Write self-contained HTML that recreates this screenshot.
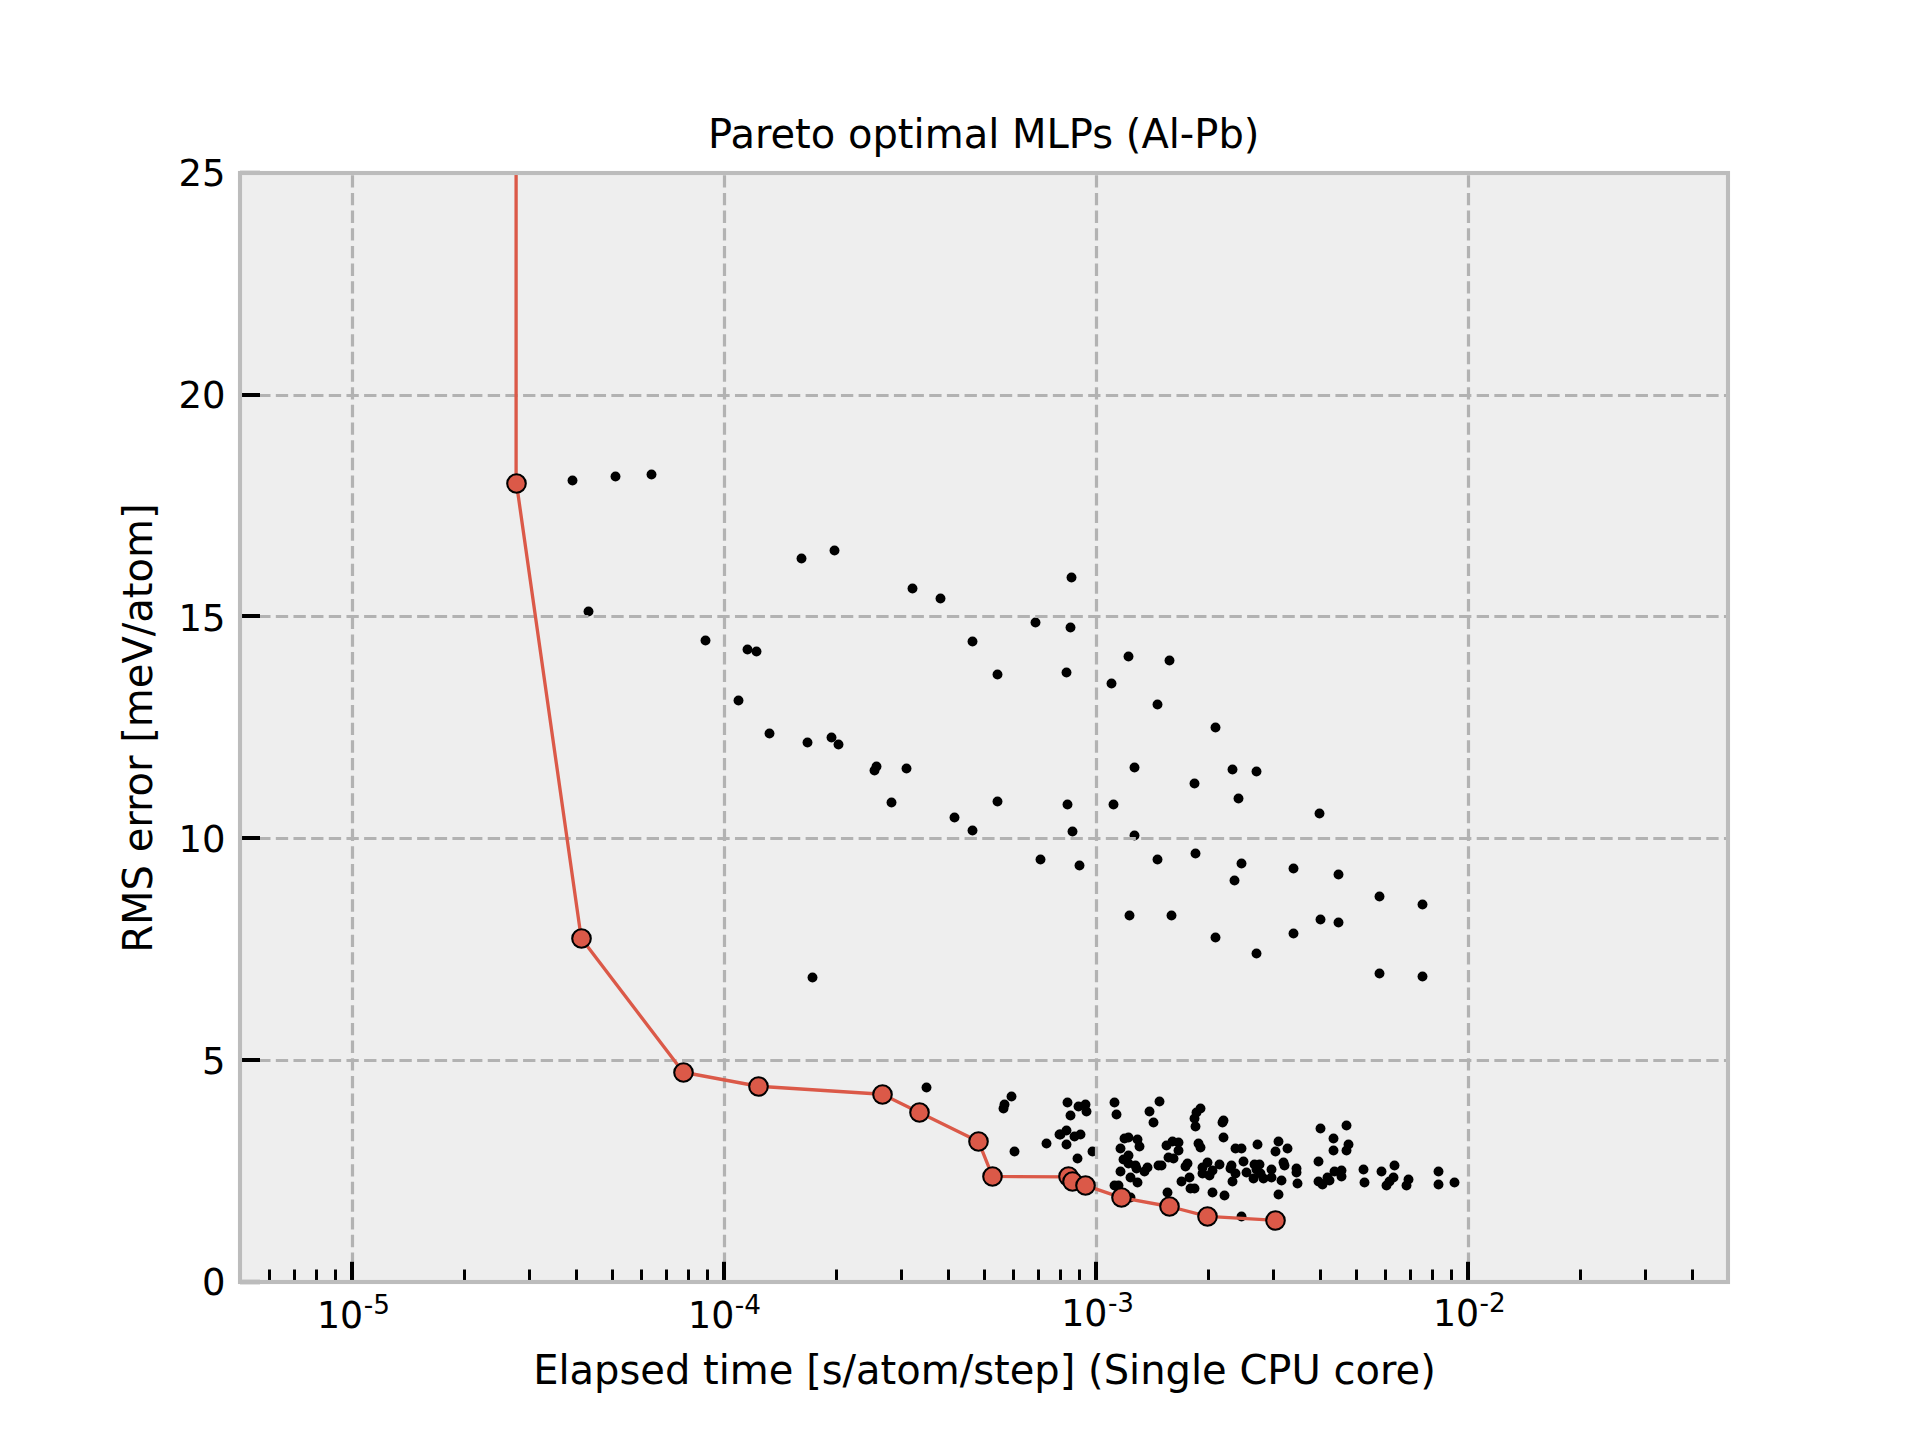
<!DOCTYPE html>
<html lang="en"><head><meta charset="utf-8"><title>Pareto optimal MLPs (Al-Pb)</title>
<style>html,body{margin:0;padding:0;background:#fff;}body{width:1920px;height:1440px;overflow:hidden;}</style></head>
<body>
<svg width="1920" height="1440" viewBox="0 0 1920 1440" style="display:block" font-family='"DejaVu Sans", "Liberation Sans", sans-serif'>
<rect x="0" y="0" width="1920" height="1440" fill="#ffffff"/>
<rect x="240.0" y="172.8" width="1488.0" height="1108.8" fill="#eeeeee"/>
<clipPath id="ax"><rect x="240.0" y="172.8" width="1488.0" height="1108.8"/></clipPath>
<g fill="#000000" clip-path="url(#ax)">
<circle cx="572.5" cy="480.5" r="4.95"/>
<circle cx="615.5" cy="476.5" r="4.95"/>
<circle cx="651.5" cy="474.5" r="4.95"/>
<circle cx="588.5" cy="611.5" r="4.95"/>
<circle cx="705.5" cy="640.5" r="4.95"/>
<circle cx="747.5" cy="649.5" r="4.95"/>
<circle cx="756.5" cy="651.5" r="4.95"/>
<circle cx="738.5" cy="700.5" r="4.95"/>
<circle cx="801.5" cy="558.5" r="4.95"/>
<circle cx="834.5" cy="550.5" r="4.95"/>
<circle cx="912.5" cy="588.5" r="4.95"/>
<circle cx="940.5" cy="598.5" r="4.95"/>
<circle cx="769.5" cy="733.5" r="4.95"/>
<circle cx="807.5" cy="742.5" r="4.95"/>
<circle cx="831.5" cy="737.5" r="4.95"/>
<circle cx="838.5" cy="744.5" r="4.95"/>
<circle cx="876.5" cy="766.5" r="4.95"/>
<circle cx="874.5" cy="770.5" r="4.95"/>
<circle cx="906.5" cy="768.5" r="4.95"/>
<circle cx="891.5" cy="802.5" r="4.95"/>
<circle cx="1071.5" cy="577.5" r="4.95"/>
<circle cx="1035.5" cy="622.5" r="4.95"/>
<circle cx="1070.5" cy="627.5" r="4.95"/>
<circle cx="972.5" cy="641.5" r="4.95"/>
<circle cx="997.5" cy="674.5" r="4.95"/>
<circle cx="1066.5" cy="672.5" r="4.95"/>
<circle cx="1128.5" cy="656.5" r="4.95"/>
<circle cx="1169.5" cy="660.5" r="4.95"/>
<circle cx="1111.5" cy="683.5" r="4.95"/>
<circle cx="1157.5" cy="704.5" r="4.95"/>
<circle cx="1215.5" cy="727.5" r="4.95"/>
<circle cx="1134.5" cy="767.5" r="4.95"/>
<circle cx="1232.5" cy="769.5" r="4.95"/>
<circle cx="1256.5" cy="771.5" r="4.95"/>
<circle cx="1194.5" cy="783.5" r="4.95"/>
<circle cx="1238.5" cy="798.5" r="4.95"/>
<circle cx="997.5" cy="801.5" r="4.95"/>
<circle cx="954.5" cy="817.5" r="4.95"/>
<circle cx="812.5" cy="977.5" r="4.95"/>
<circle cx="926.5" cy="1087.5" r="4.95"/>
<circle cx="1067.5" cy="804.5" r="4.95"/>
<circle cx="1113.5" cy="804.5" r="4.95"/>
<circle cx="1319.5" cy="813.5" r="4.95"/>
<circle cx="972.5" cy="830.5" r="4.95"/>
<circle cx="1072.5" cy="831.5" r="4.95"/>
<circle cx="1134.5" cy="835.5" r="4.95"/>
<circle cx="1040.5" cy="859.5" r="4.95"/>
<circle cx="1079.5" cy="865.5" r="4.95"/>
<circle cx="1157.5" cy="859.5" r="4.95"/>
<circle cx="1195.5" cy="853.5" r="4.95"/>
<circle cx="1241.5" cy="863.5" r="4.95"/>
<circle cx="1234.5" cy="880.5" r="4.95"/>
<circle cx="1293.5" cy="868.5" r="4.95"/>
<circle cx="1338.5" cy="874.5" r="4.95"/>
<circle cx="1379.5" cy="896.5" r="4.95"/>
<circle cx="1422.5" cy="904.5" r="4.95"/>
<circle cx="1129.5" cy="915.5" r="4.95"/>
<circle cx="1171.5" cy="915.5" r="4.95"/>
<circle cx="1320.5" cy="919.5" r="4.95"/>
<circle cx="1338.5" cy="922.5" r="4.95"/>
<circle cx="1293.5" cy="933.5" r="4.95"/>
<circle cx="1215.5" cy="937.5" r="4.95"/>
<circle cx="1256.5" cy="953.5" r="4.95"/>
<circle cx="1379.5" cy="973.5" r="4.95"/>
<circle cx="1422.5" cy="976.5" r="4.95"/>
<circle cx="1011.5" cy="1096.5" r="4.95"/>
<circle cx="1004.5" cy="1104.5" r="4.95"/>
<circle cx="1003.5" cy="1108.5" r="4.95"/>
<circle cx="1014.5" cy="1151.5" r="4.95"/>
<circle cx="1067.5" cy="1102.5" r="4.95"/>
<circle cx="1078.5" cy="1106.5" r="4.95"/>
<circle cx="1085.5" cy="1104.5" r="4.95"/>
<circle cx="1086.5" cy="1111.5" r="4.95"/>
<circle cx="1070.5" cy="1115.5" r="4.95"/>
<circle cx="1066.5" cy="1130.5" r="4.95"/>
<circle cx="1059.5" cy="1134.5" r="4.95"/>
<circle cx="1060.5" cy="1134.5" r="4.95"/>
<circle cx="1074.5" cy="1136.5" r="4.95"/>
<circle cx="1080.5" cy="1134.5" r="4.95"/>
<circle cx="1046.5" cy="1143.5" r="4.95"/>
<circle cx="1066.5" cy="1144.5" r="4.95"/>
<circle cx="1092.5" cy="1151.5" r="4.95"/>
<circle cx="1077.5" cy="1158.5" r="4.95"/>
<circle cx="1114.5" cy="1102.5" r="4.95"/>
<circle cx="1116.5" cy="1114.5" r="4.95"/>
<circle cx="1159.5" cy="1101.5" r="4.95"/>
<circle cx="1149.5" cy="1111.5" r="4.95"/>
<circle cx="1153.5" cy="1122.5" r="4.95"/>
<circle cx="1124.5" cy="1138.5" r="4.95"/>
<circle cx="1128.5" cy="1137.5" r="4.95"/>
<circle cx="1137.5" cy="1139.5" r="4.95"/>
<circle cx="1139.5" cy="1146.5" r="4.95"/>
<circle cx="1120.5" cy="1148.5" r="4.95"/>
<circle cx="1128.5" cy="1155.5" r="4.95"/>
<circle cx="1123.5" cy="1159.5" r="4.95"/>
<circle cx="1128.5" cy="1163.5" r="4.95"/>
<circle cx="1135.5" cy="1165.5" r="4.95"/>
<circle cx="1136.5" cy="1168.5" r="4.95"/>
<circle cx="1147.5" cy="1167.5" r="4.95"/>
<circle cx="1144.5" cy="1171.5" r="4.95"/>
<circle cx="1120.5" cy="1171.5" r="4.95"/>
<circle cx="1130.5" cy="1177.5" r="4.95"/>
<circle cx="1137.5" cy="1182.5" r="4.95"/>
<circle cx="1114.5" cy="1185.5" r="4.95"/>
<circle cx="1118.5" cy="1185.5" r="4.95"/>
<circle cx="1130.5" cy="1197.5" r="4.95"/>
<circle cx="1158.5" cy="1165.5" r="4.95"/>
<circle cx="1161.5" cy="1165.5" r="4.95"/>
<circle cx="1166.5" cy="1145.5" r="4.95"/>
<circle cx="1172.5" cy="1141.5" r="4.95"/>
<circle cx="1178.5" cy="1142.5" r="4.95"/>
<circle cx="1178.5" cy="1150.5" r="4.95"/>
<circle cx="1168.5" cy="1157.5" r="4.95"/>
<circle cx="1173.5" cy="1158.5" r="4.95"/>
<circle cx="1187.5" cy="1163.5" r="4.95"/>
<circle cx="1185.5" cy="1166.5" r="4.95"/>
<circle cx="1189.5" cy="1177.5" r="4.95"/>
<circle cx="1181.5" cy="1181.5" r="4.95"/>
<circle cx="1167.5" cy="1192.5" r="4.95"/>
<circle cx="1190.5" cy="1188.5" r="4.95"/>
<circle cx="1194.5" cy="1188.5" r="4.95"/>
<circle cx="1200.5" cy="1108.5" r="4.95"/>
<circle cx="1196.5" cy="1112.5" r="4.95"/>
<circle cx="1194.5" cy="1118.5" r="4.95"/>
<circle cx="1195.5" cy="1126.5" r="4.95"/>
<circle cx="1223.5" cy="1120.5" r="4.95"/>
<circle cx="1222.5" cy="1122.5" r="4.95"/>
<circle cx="1223.5" cy="1137.5" r="4.95"/>
<circle cx="1198.5" cy="1143.5" r="4.95"/>
<circle cx="1200.5" cy="1147.5" r="4.95"/>
<circle cx="1235.5" cy="1148.5" r="4.95"/>
<circle cx="1241.5" cy="1148.5" r="4.95"/>
<circle cx="1257.5" cy="1144.5" r="4.95"/>
<circle cx="1278.5" cy="1141.5" r="4.95"/>
<circle cx="1275.5" cy="1151.5" r="4.95"/>
<circle cx="1287.5" cy="1148.5" r="4.95"/>
<circle cx="1320.5" cy="1128.5" r="4.95"/>
<circle cx="1333.5" cy="1138.5" r="4.95"/>
<circle cx="1333.5" cy="1150.5" r="4.95"/>
<circle cx="1318.5" cy="1161.5" r="4.95"/>
<circle cx="1243.5" cy="1161.5" r="4.95"/>
<circle cx="1283.5" cy="1162.5" r="4.95"/>
<circle cx="1284.5" cy="1165.5" r="4.95"/>
<circle cx="1219.5" cy="1164.5" r="4.95"/>
<circle cx="1207.5" cy="1162.5" r="4.95"/>
<circle cx="1202.5" cy="1167.5" r="4.95"/>
<circle cx="1212.5" cy="1170.5" r="4.95"/>
<circle cx="1202.5" cy="1173.5" r="4.95"/>
<circle cx="1209.5" cy="1175.5" r="4.95"/>
<circle cx="1231.5" cy="1165.5" r="4.95"/>
<circle cx="1230.5" cy="1168.5" r="4.95"/>
<circle cx="1235.5" cy="1173.5" r="4.95"/>
<circle cx="1232.5" cy="1181.5" r="4.95"/>
<circle cx="1246.5" cy="1172.5" r="4.95"/>
<circle cx="1254.5" cy="1164.5" r="4.95"/>
<circle cx="1259.5" cy="1164.5" r="4.95"/>
<circle cx="1256.5" cy="1169.5" r="4.95"/>
<circle cx="1260.5" cy="1173.5" r="4.95"/>
<circle cx="1253.5" cy="1178.5" r="4.95"/>
<circle cx="1263.5" cy="1178.5" r="4.95"/>
<circle cx="1271.5" cy="1169.5" r="4.95"/>
<circle cx="1271.5" cy="1177.5" r="4.95"/>
<circle cx="1281.5" cy="1180.5" r="4.95"/>
<circle cx="1296.5" cy="1168.5" r="4.95"/>
<circle cx="1296.5" cy="1172.5" r="4.95"/>
<circle cx="1297.5" cy="1183.5" r="4.95"/>
<circle cx="1278.5" cy="1194.5" r="4.95"/>
<circle cx="1212.5" cy="1192.5" r="4.95"/>
<circle cx="1224.5" cy="1195.5" r="4.95"/>
<circle cx="1241.5" cy="1216.5" r="4.95"/>
<circle cx="1318.5" cy="1181.5" r="4.95"/>
<circle cx="1322.5" cy="1184.5" r="4.95"/>
<circle cx="1327.5" cy="1177.5" r="4.95"/>
<circle cx="1329.5" cy="1180.5" r="4.95"/>
<circle cx="1334.5" cy="1171.5" r="4.95"/>
<circle cx="1341.5" cy="1170.5" r="4.95"/>
<circle cx="1341.5" cy="1176.5" r="4.95"/>
<circle cx="1346.5" cy="1125.5" r="4.95"/>
<circle cx="1348.5" cy="1144.5" r="4.95"/>
<circle cx="1346.5" cy="1150.5" r="4.95"/>
<circle cx="1363.5" cy="1169.5" r="4.95"/>
<circle cx="1364.5" cy="1182.5" r="4.95"/>
<circle cx="1381.5" cy="1171.5" r="4.95"/>
<circle cx="1394.5" cy="1165.5" r="4.95"/>
<circle cx="1393.5" cy="1177.5" r="4.95"/>
<circle cx="1389.5" cy="1181.5" r="4.95"/>
<circle cx="1386.5" cy="1185.5" r="4.95"/>
<circle cx="1408.5" cy="1179.5" r="4.95"/>
<circle cx="1406.5" cy="1185.5" r="4.95"/>
<circle cx="1438.5" cy="1171.5" r="4.95"/>
<circle cx="1438.5" cy="1184.5" r="4.95"/>
<circle cx="1454.5" cy="1182.5" r="4.95"/>
</g>
<g stroke="#b2b2b2" stroke-width="3.2" stroke-dasharray="12.33 5.33" fill="none">
<path d="M352.5 1282.5V172.8"/>
<path d="M724.5 1282.5V172.8"/>
<path d="M1096.5 1282.5V172.8"/>
<path d="M1468.5 1282.5V172.8"/>
<path d="M240.5 1060.5H1728.0"/>
<path d="M240.5 838.5H1728.0"/>
<path d="M240.5 616.5H1728.0"/>
<path d="M240.5 395.5H1728.0"/>
</g>
<g stroke="#000" fill="none">
<path d="M352 1281.6V1261.8" stroke-width="4"/>
<path d="M724 1281.6V1261.8" stroke-width="4"/>
<path d="M1096 1281.6V1261.8" stroke-width="4"/>
<path d="M1468 1281.6V1261.8" stroke-width="4"/>
<path d="M269.5 1281.6V1269.5" stroke-width="3"/>
<path d="M294.5 1281.6V1269.5" stroke-width="3"/>
<path d="M316.5 1281.6V1269.5" stroke-width="3"/>
<path d="M335.5 1281.6V1269.5" stroke-width="3"/>
<path d="M464.5 1281.6V1269.5" stroke-width="3"/>
<path d="M529.5 1281.6V1269.5" stroke-width="3"/>
<path d="M576.5 1281.6V1269.5" stroke-width="3"/>
<path d="M612.5 1281.6V1269.5" stroke-width="3"/>
<path d="M641.5 1281.6V1269.5" stroke-width="3"/>
<path d="M666.5 1281.6V1269.5" stroke-width="3"/>
<path d="M688.5 1281.6V1269.5" stroke-width="3"/>
<path d="M707.5 1281.6V1269.5" stroke-width="3"/>
<path d="M836.5 1281.6V1269.5" stroke-width="3"/>
<path d="M901.5 1281.6V1269.5" stroke-width="3"/>
<path d="M948.5 1281.6V1269.5" stroke-width="3"/>
<path d="M984.5 1281.6V1269.5" stroke-width="3"/>
<path d="M1013.5 1281.6V1269.5" stroke-width="3"/>
<path d="M1038.5 1281.6V1269.5" stroke-width="3"/>
<path d="M1060.5 1281.6V1269.5" stroke-width="3"/>
<path d="M1079.5 1281.6V1269.5" stroke-width="3"/>
<path d="M1208.5 1281.6V1269.5" stroke-width="3"/>
<path d="M1273.5 1281.6V1269.5" stroke-width="3"/>
<path d="M1320.5 1281.6V1269.5" stroke-width="3"/>
<path d="M1356.5 1281.6V1269.5" stroke-width="3"/>
<path d="M1385.5 1281.6V1269.5" stroke-width="3"/>
<path d="M1410.5 1281.6V1269.5" stroke-width="3"/>
<path d="M1432.5 1281.6V1269.5" stroke-width="3"/>
<path d="M1451.5 1281.6V1269.5" stroke-width="3"/>
<path d="M1580.5 1281.6V1269.5" stroke-width="3"/>
<path d="M1645.5 1281.6V1269.5" stroke-width="3"/>
<path d="M1692.5 1281.6V1269.5" stroke-width="3"/>
<path d="M1728.5 1281.6V1269.5" stroke-width="3"/>
<path d="M240.0 1060.0H260.0" stroke-width="4"/>
<path d="M240.0 838.0H260.0" stroke-width="4"/>
<path d="M240.0 616.0H260.0" stroke-width="4"/>
<path d="M240.0 395.0H260.0" stroke-width="4"/>
<rect x="240" y="1279" width="20" height="6" fill="#bcbcbc" fill-opacity="0.4" stroke="none"/>
<rect x="240" y="170" width="20" height="2" fill="#bcbcbc" fill-opacity="0.4" stroke="none"/>
</g>
<g clip-path="url(#ax)"><polyline points="516.1,167.8 516.1,483.5 516.50,483.50 581.25,938.25 683.25,1072.25 758.25,1086.25 882.25,1094.25 919.40,1112.50 978.50,1141.40 992.50,1176.40 1068.10,1176.90 1072.25,1181.60 1085.40,1185.40 1121.25,1197.60 1169.50,1206.50 1207.50,1216.40 1275.60,1220.25" fill="none" stroke="#db5948" stroke-width="3.33" stroke-linejoin="round"/>
<circle cx="516.5" cy="483.5" r="9.3" fill="#db5948" stroke="#000" stroke-width="2.08"/>
<circle cx="581.5" cy="938.5" r="9.3" fill="#db5948" stroke="#000" stroke-width="2.08"/>
<circle cx="683.5" cy="1072.5" r="9.3" fill="#db5948" stroke="#000" stroke-width="2.08"/>
<circle cx="758.5" cy="1086.5" r="9.3" fill="#db5948" stroke="#000" stroke-width="2.08"/>
<circle cx="882.5" cy="1094.5" r="9.3" fill="#db5948" stroke="#000" stroke-width="2.08"/>
<circle cx="919.5" cy="1112.5" r="9.3" fill="#db5948" stroke="#000" stroke-width="2.08"/>
<circle cx="978.5" cy="1141.5" r="9.3" fill="#db5948" stroke="#000" stroke-width="2.08"/>
<circle cx="992.5" cy="1176.5" r="9.3" fill="#db5948" stroke="#000" stroke-width="2.08"/>
<circle cx="1068.5" cy="1176.5" r="9.3" fill="#db5948" stroke="#000" stroke-width="2.08"/>
<circle cx="1072.5" cy="1181.5" r="9.3" fill="#db5948" stroke="#000" stroke-width="2.08"/>
<circle cx="1085.5" cy="1185.5" r="9.3" fill="#db5948" stroke="#000" stroke-width="2.08"/>
<circle cx="1121.5" cy="1197.5" r="9.3" fill="#db5948" stroke="#000" stroke-width="2.08"/>
<circle cx="1169.5" cy="1206.5" r="9.3" fill="#db5948" stroke="#000" stroke-width="2.08"/>
<circle cx="1207.5" cy="1216.5" r="9.3" fill="#db5948" stroke="#000" stroke-width="2.08"/>
<circle cx="1275.5" cy="1220.5" r="9.3" fill="#db5948" stroke="#000" stroke-width="2.08"/>
</g>
<rect x="240" y="173" width="1488" height="1109" fill="none" stroke="#bcbcbc" stroke-width="4.1"/>
<g font-size="37.5" fill="#000">
<text transform="translate(225.6 1295.3) scale(0.985 1)" text-anchor="end">0</text>
<text transform="translate(225.6 1074.2) scale(0.985 1)" text-anchor="end">5</text>
<text transform="translate(225.6 852.0) scale(0.985 1)" text-anchor="end">10</text>
<text transform="translate(225.6 631.0) scale(0.985 1)" text-anchor="end">15</text>
<text transform="translate(225.6 408.0) scale(0.985 1)" text-anchor="end">20</text>
<text transform="translate(225.6 186.3) scale(0.985 1)" text-anchor="end">25</text>
<text transform="translate(317.00 1327.9) scale(0.968 1)">10</text>
<text font-size="26.25" x="363.70" y="1313.90">-5</text>
<text transform="translate(688.10 1327.9) scale(0.968 1)">10</text>
<text font-size="26.25" x="734.80" y="1313.90">-4</text>
<text transform="translate(1061.20 1325.8) scale(0.968 1)">10</text>
<text font-size="26.25" x="1107.90" y="1311.80">-3</text>
<text transform="translate(1432.90 1325.8) scale(0.968 1)">10</text>
<text font-size="26.25" x="1479.60" y="1311.80">-2</text>
</g>
<g font-size="41.67" fill="#000">
<text transform="translate(983.75 148) scale(0.9603 1)" text-anchor="middle">Pareto optimal MLPs (Al-Pb)</text>
<text transform="translate(984.45 1383.6) scale(0.9603 1)" text-anchor="middle">Elapsed time [s/atom/step] (Single CPU core)</text>
<text transform="translate(152 728.15) rotate(-90) scale(0.9603 1)" text-anchor="middle">RMS error [meV/atom]</text>
</g>
</svg>
</body></html>
